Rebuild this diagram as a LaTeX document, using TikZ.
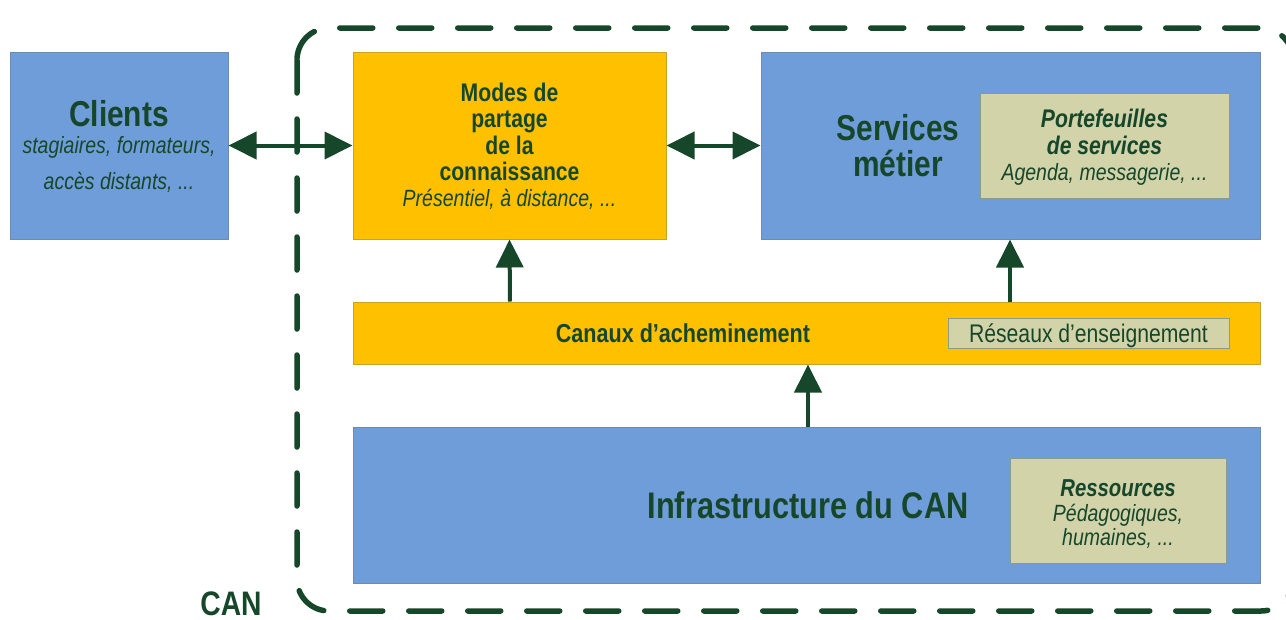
\documentclass[tikz,border=0pt]{standalone}
\usepackage{fontspec}
\setmainfont{Liberation Sans}[FakeStretch=0.83]
\usetikzlibrary{arrows.meta}
\definecolor{cblue}{HTML}{6F9DD9}
\definecolor{cbluedraw}{HTML}{6A8CB0}
\definecolor{corange}{HTML}{FFC000}
\definecolor{coranged}{HTML}{C9A227}
\definecolor{ckhaki}{HTML}{D3D3AA}
\definecolor{ckhakid}{HTML}{8C9A8A}
\definecolor{cgreen}{HTML}{17472A}
\tikzset{
  bluebox/.style={draw=cbluedraw, line width=1pt, fill=cblue, inner sep=0, anchor=center},
  orangebox/.style={draw=coranged, line width=1pt, fill=corange, inner sep=0, anchor=center},
  khakibox/.style={draw=ckhakid, line width=1pt, fill=ckhaki, inner sep=0, anchor=center},
  txt/.style={text=cgreen, inner sep=0, anchor=center, text height=7.2pt, text depth=2pt},
  conn/.style={draw=cgreen, line width=4pt, -{Triangle[length=28pt,width=27pt]}},
  biconn/.style={draw=cgreen, line width=4pt, {Triangle[length=28pt,width=27pt]}-{Triangle[length=28pt,width=27pt]}},
  boundary/.style={draw=cgreen, line width=5.5pt, dash pattern=on 33pt off 26pt, line cap=round, rounded corners=32pt}
}
\begin{document}
\begin{tikzpicture}[x=1pt,y=-1pt]
\useasboundingbox (0,0) rectangle (1286,619);
\fill[white] (0,0) rectangle (1286,619);
% boxes
\node[bluebox, minimum width=218pt, minimum height=187pt] (clients) at (119,145.5) {};
\node[orangebox, minimum width=313pt, minimum height=187pt] (modes) at (509.5,145.5) {};
\node[bluebox, minimum width=499pt, minimum height=187pt] (services) at (1010.5,145.5) {};
\node[khakibox, minimum width=249pt, minimum height=105pt] (portef) at (1104.5,145.5) {};
\node[orangebox, minimum width=907pt, minimum height=62pt] (canaux) at (806.5,333) {};
\node[khakibox, minimum width=281pt, minimum height=30pt] (reseaux) at (1088.5,333) {};
\node[bluebox, minimum width=907pt, minimum height=156pt] (infra) at (806.5,505) {};
\node[khakibox, minimum width=216pt, minimum height=105pt] (ressources) at (1118,510.5) {};
% boundary
\path[boundary] (297,28) rectangle (1293,611);
% texts
\node[txt, font=\fontsize{36}{36}\selectfont\bfseries] (tclients) at (119,123.4) {Clients};
\node[txt, font=\fontsize{23.5}{23.5}\selectfont\itshape] (tclients1) at (119,151) {stagiaires, formateurs,};
\node[txt, font=\fontsize{23.5}{23.5}\selectfont\itshape] (tclients2) at (119,187) {accès distants, ...};
\node[txt, font=\fontsize{25.5}{25.5}\selectfont\bfseries] (tmodes1) at (509.5,98.6) {Modes de};
\node[txt, font=\fontsize{25.5}{25.5}\selectfont\bfseries] (tmodes2) at (509.5,124.6) {partage};
\node[txt, font=\fontsize{25.5}{25.5}\selectfont\bfseries] (tmodes3) at (509.5,151.6) {de la};
\node[txt, font=\fontsize{25.5}{25.5}\selectfont\bfseries] (tmodes4) at (509.5,177.6) {connaissance};
\node[txt, font=\fontsize{23.5}{23.5}\selectfont\itshape] (tmodes5) at (509.5,204) {Présentiel, à distance, ...};
\node[txt, font=\fontsize{36}{36}\selectfont\bfseries] (tserv1) at (898,137.4) {Services};
\node[txt, font=\fontsize{36}{36}\selectfont\bfseries] (tserv2) at (898,173.4) {métier};
\node[txt, font=\fontsize{25.5}{25.5}\selectfont\bfseries\itshape] (tport1) at (1104.5,124.6) {Portefeuilles};
\node[txt, font=\fontsize{25.5}{25.5}\selectfont\bfseries\itshape] (tport2) at (1104.5,151.6) {de services};
\node[txt, font=\fontsize{23.5}{23.5}\selectfont\itshape] (tport3) at (1104.5,178) {Agenda, messagerie, ...};
\node[txt, font=\fontsize{26}{26}\selectfont\bfseries] (tcanaux) at (683,339.8) {Canaux d’acheminement};
\node[txt, font=\fontsize{25.5}{25.5}\selectfont] (treseaux) at (1088.5,339.6) {Réseaux d’enseignement};
\node[txt, font=\fontsize{37}{37}\selectfont\bfseries] (tinfra) at (808,515.7) {Infrastructure du CAN};
\node[txt, font=\fontsize{24.5}{24.5}\selectfont\bfseries\itshape] (tres1) at (1118,494.2) {Ressources};
\node[txt, font=\fontsize{23.5}{23.5}\selectfont\itshape] (tres2) at (1118,519) {Pédagogiques,};
\node[txt, font=\fontsize{23.5}{23.5}\selectfont\itshape] (tres3) at (1118,543) {humaines, ...};
\node[txt, font=\fontsize{34}{34}\selectfont\bfseries] (tcan) at (231,613) {CAN};
% connectors
\draw[biconn] (clients.east) -- (modes.west);
\draw[biconn] (modes.east) -- (services.west);
\draw[conn] (canaux.north -| 510,0) -- (modes.south);
\draw[conn] (canaux.north -| 1010,0) -- (services.south -| 1010,0);
\draw[conn] (infra.north -| 808,0) -- (canaux.south -| 808,0);
\end{tikzpicture}
\end{document}
